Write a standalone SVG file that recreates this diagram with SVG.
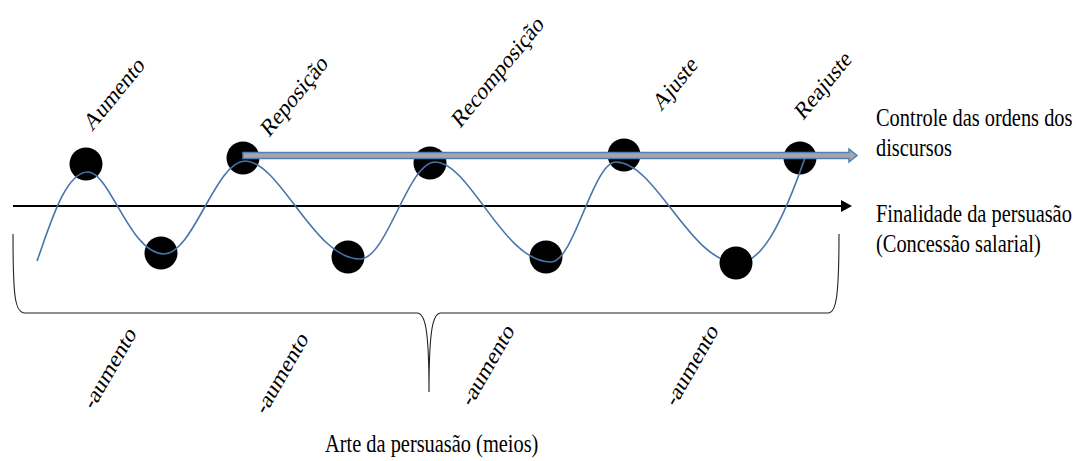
<svg xmlns="http://www.w3.org/2000/svg" width="1076" height="461" viewBox="0 0 1076 461">
<style>
  .t { font-family: 'Liberation Serif', 'DejaVu Serif', serif; font-size: 20.4px; fill: #000; }
  .dot { fill: #000; }
  .wave { fill: none; stroke: #4674aa; stroke-width: 1.6; }
  .brace { fill: none; stroke: #222; stroke-width: 1.1; }
  .axis { stroke: #000; stroke-width: 2; }
</style>
<rect width="1076" height="461" fill="#fff"/>

<g id="points">
  <circle class="dot" cx="86" cy="164" r="16.5"/>
  <circle class="dot" cx="161" cy="253" r="16.5"/>
  <circle class="dot" cx="243" cy="158" r="16.5"/>
  <circle class="dot" cx="348" cy="257" r="16.5"/>
  <circle class="dot" cx="430" cy="163" r="16.5"/>
  <circle class="dot" cx="546" cy="257" r="16.5"/>
  <circle class="dot" cx="624" cy="155" r="16.5"/>
  <circle class="dot" cx="800" cy="158" r="16.5"/>
</g>

<g id="connectors">
  <path id="brace" class="brace" d="M13,234 C13,298 15,313 25,313 L417,313 C425,313 429,328 429,392 C429,328 433,313 441,313 L828,313 C836,313 839,298 839,234"/>
  <g id="axis">
    <line class="axis" x1="13" y1="206" x2="843" y2="206"/>
    <polygon points="841,200 852,206 841,212" fill="#000"/>
  </g>
  <path id="wave" class="wave" d="M37,261 C50,225 65,172 88,172 C110,172 130,254 164,254 C193,254 216,161 245,161 C280,161 314,259 360,259 C387,259 408,162 435,162 C470,162 503,262 551,262 C574,262 593,162 616,162 C656,162 690,263 738,263 C760,263 780,230 806,155"/>
</g>

<g id="point-8">
  <circle class="dot" cx="736" cy="263" r="16.5"/>
</g>

<g id="control-arrow">
  <path d="M243,152.5 L849,152.5 L849,149 L857,155.5 L849,162 L849,158.5 L243,158.5 Z" fill="#a6a6a6" stroke="#4f7fb8" stroke-width="1.5" stroke-linejoin="miter"/>
</g>

<g id="top-labels">
  <text class="t" transform="translate(92,132) scale(1,1.22) rotate(-45)">Aumento</text>
  <text class="t" transform="translate(269,138) scale(1,1.22) rotate(-45)">Reposição</text>
  <text class="t" transform="translate(460,129) scale(1,1.22) rotate(-45)">Recomposição</text>
  <text class="t" transform="translate(661,112) scale(1,1.22) rotate(-45)">Ajuste</text>
  <text class="t" transform="translate(803,121) scale(1,1.22) rotate(-45)">Reajuste</text>
</g>

<g id="bottom-labels">
  <text class="t" transform="translate(93,411) scale(1,1.22) rotate(-55)">-aumento</text>
  <text class="t" transform="translate(265,416) scale(1,1.22) rotate(-55)">-aumento</text>
  <text class="t" transform="translate(471,408) scale(1,1.22) rotate(-55)">-aumento</text>
  <text class="t" transform="translate(675,408) scale(1,1.22) rotate(-55)">-aumento</text>
</g>

<g id="label-control">
  <text class="t" transform="translate(876,126) scale(1,1.2)">Controle das ordens dos</text>
  <text class="t" transform="translate(876,156) scale(1,1.2)">discursos</text>
</g>
<g id="label-finality">
  <text class="t" transform="translate(876,222) scale(1,1.2)">Finalidade da persuasão</text>
  <text class="t" transform="translate(876,252) scale(1,1.2)">(Concessão salarial)</text>
</g>
<g id="label-art">
  <text class="t" transform="translate(325,452) scale(1,1.2)">Arte da persuasão (meios)</text>
</g>
</svg>
